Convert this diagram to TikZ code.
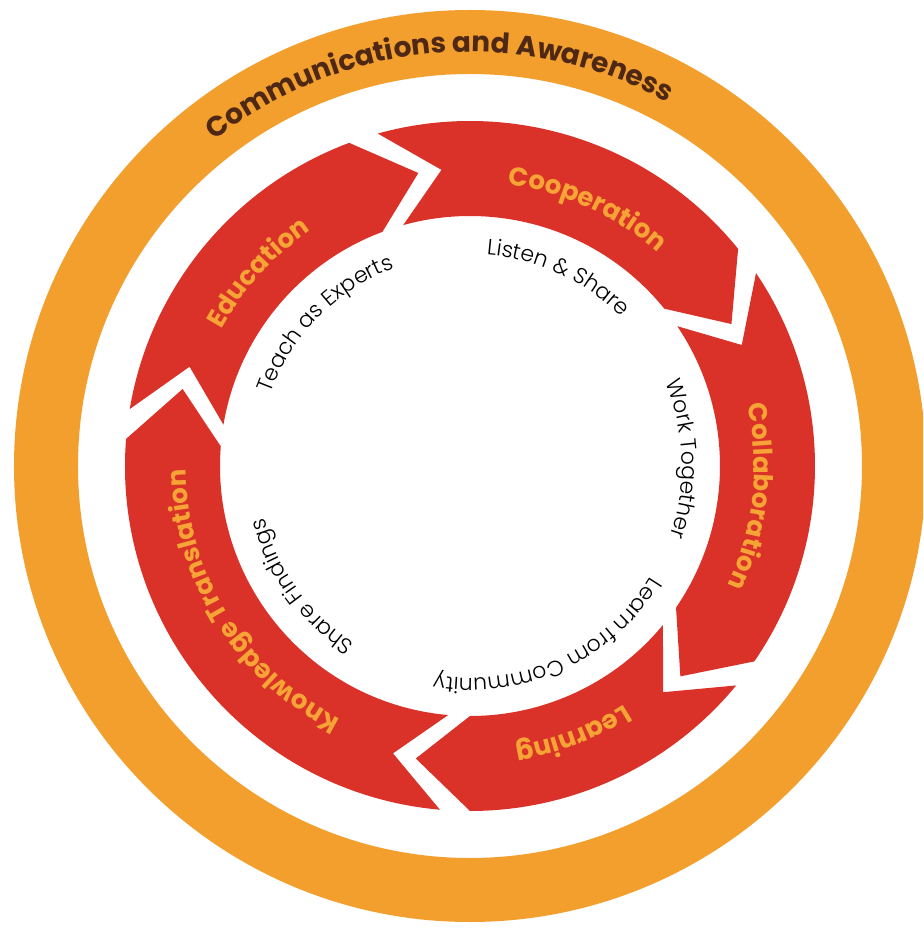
\documentclass[tikz,border=0pt]{standalone}
\usepackage{fontspec}
\setmainfont{Poppins}
\newfontfamily\lightsans{Poppins}[UprightFont=* Light]
\newfontfamily\heavysans{Poppins}[UprightFont=* Bold]
\usetikzlibrary{decorations.text}

\definecolor{ringorange}{HTML}{F39F2E}
\definecolor{segred}{HTML}{DA3228}
\definecolor{labelorange}{HTML}{F7A436}
\definecolor{ringbrown}{HTML}{4E2814}

% text set along a clockwise arc: centre angle, baseline radius, half span, format, text
\newcommand\arclabel[5]{%
  \path[decorate,decoration={text along path,text align=center,text={|#4|#5}}]
    (#1+#3:#2) arc[start angle=#1+#3,end angle=#1-#3,radius=#2];}

% one arrow of the cycle: tip angle of the arrow before it, tip angle of this one
\newcommand\cyclearrow[2]{%
  \fill[segred] (#1+5.5:345pt) arc[start angle=#1+5.5,end angle=#2+10.5,radius=345pt]
    -- (#2:297.5pt) -- (#2+10.5:250pt)
    arc[start angle=#2+10.5,end angle=#1+5.5,radius=250pt]
    -- (#1-4.5:297.5pt) -- cycle;}

\newcommand\outerfont{\heavysans\fontsize{28}{31}\selectfont\color{ringbrown}}
\newcommand\stagefont{\heavysans\fontsize{26}{30}\selectfont\color{labelorange}}
\newcommand\actionfont{\lightsans\fontsize{22}{24}\selectfont\color{black}}

\begin{document}
\begin{tikzpicture}
  \useasboundingbox (-470pt,-462pt) rectangle (453pt,466pt);
  \clip (-470pt,-462pt) rectangle (453pt,466pt);
  \fill[white] (-470pt,-462pt) rectangle (453pt,466pt);

  % outer ring
  \fill[ringorange,even odd rule] (0,0) circle[radius=456pt] (0,0) circle[radius=392pt];
  \arclabel{94.8}{414pt}{70}{\outerfont}{Communications and Awareness}

  % the five arrows, clockwise
  \cyclearrow{165}{100}      % Education
  \cyclearrow{100}{28.5}     % Cooperation
  \cyclearrow{28.5}{-45}     % Collaboration
  \cyclearrow{-45}{-100.5}   % Learning
  \cyclearrow{-100.5}{-195}  % Knowledge Translation

  % stage names
  \arclabel{137.6}{284pt}{60}{\stagefont}{Education}
  \arclabel{65.5}{284pt}{60}{\stagefont}{Cooperation}
  \arclabel{-6.2}{284pt}{60}{\stagefont}{Collaboration}
  \arclabel{-69}{284pt}{60}{\stagefont}{Learning}
  \arclabel{-148.2}{284pt}{70}{\stagefont}{Knowledge Translation}

  % actions inside the cycle
  \arclabel{135.5}{212pt}{70}{\actionfont}{Teach as Experts}
  \arclabel{65}{212pt}{70}{\actionfont}{Listen {\&} Share}
  \arclabel{2}{212pt}{70}{\actionfont}{Work Together}
  \arclabel{-65.6}{212pt}{70}{\actionfont}{Learn from Community}
  \arclabel{-144.4}{212pt}{70}{\actionfont}{Share Findings}
\end{tikzpicture}
\end{document}
